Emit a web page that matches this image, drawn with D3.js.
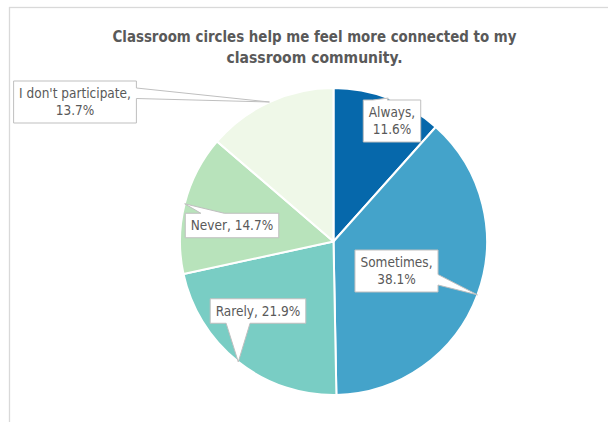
<!DOCTYPE html>
<html><head><meta charset="utf-8">
<script src="https://cdn.jsdelivr.net/npm/d3@7"></script>
<style>html,body{margin:0;padding:0;background:#fff;overflow:hidden}</style>
</head><body>
<svg id="chart" width="608" height="422"></svg>
<script>
const titleLines = ["Classroom circles help me feel more connected to my", "classroom community."];
const categories = ["Always", "Sometimes", "Rarely", "Never", "I don't participate"];
const values = [11.6, 38.1, 21.9, 14.7, 13.7];
const labelLines = [["Always,", "11.6%"], ["Sometimes,", "38.1%"], ["Rarely, 21.9%"], ["Never, 14.7%"], ["I don't participate,", "13.7%"]];
const colors = ["#0668AB", "#44A3CA", "#79CDC4", "#B8E3BB", "#EFF8E8"];
// label box centers (layout)
const boxCenters = [[392, 121], [396.5, 271], [258, 311], [232, 225.5], [75, 102]];

const W = 608, H = 422;
const cx = 333.5, cy = 241.5, R = 153.5;
const FONT = "'Liberation Sans Narrow','Arial Narrow','DejaVu Sans Condensed',sans-serif";
const svg = d3.select("#chart");

svg.append("rect").attr("x", 9.5).attr("y", 7.5).attr("width", 700).attr("height", 600)
  .attr("fill", "#fff").attr("stroke", "#d9d9d9").attr("stroke-width", 1.3);

const title = svg.append("text").attr("font-family", FONT).attr("font-weight", "bold")
  .attr("font-size", 16.5).attr("fill", "#595959").attr("text-anchor", "middle");
const titleWidths = [404, 176];
titleLines.forEach((t, i) => {
  title.append("tspan").attr("x", 314.5).attr("y", 42 + i * 21).text(t)
    .attr("textLength", titleWidths[i]).attr("lengthAdjust", "spacingAndGlyphs");
});

const pie = d3.pie().sort(null).value(d => d)(values);
const arc = d3.arc().innerRadius(0).outerRadius(R);
const edge = d3.arc().innerRadius(R).outerRadius(R);
const g = svg.append("g").attr("transform", `translate(${cx},${cy})`);
g.selectAll("path.slice").data(pie).enter().append("path").attr("class", "slice")
  .attr("d", arc).attr("fill", (d, i) => colors[i])
  .attr("stroke", "#fff").attr("stroke-width", 2).attr("stroke-linejoin", "round");

// callouts
const lineH = 17.5, padX = 5.5, padY = 3.5, fs = 13.5;
pie.forEach((d, i) => {
  const tip = edge.centroid(d);
  const tx = tip[0] + cx, ty = tip[1] + cy;
  const [bx, by] = boxCenters[i];
  const lines = labelLines[i];
  const lg = svg.append("g");
  const txt = lg.append("text").attr("font-family", FONT).attr("font-size", fs)
    .attr("fill", "#595959").attr("text-anchor", "middle");
  const h = lines.length * lineH + padY * 2;
  lines.forEach((l, k) => {
    txt.append("tspan").attr("x", bx).attr("y", by - h / 2 + padY + lineH * k + lineH * 0.76).text(l);
  });
  const tw = txt.node().getBBox().width;
  const w = tw + padX * 2;
  const x0 = bx - w / 2, y0 = by - h / 2, x1 = bx + w / 2, y1 = by + h / 2;
  const dxn = (tx - bx) / (w / 2), dyn = (ty - by) / (h / 2);
  let pts;
  const inside = Math.abs(dxn) <= 1 && Math.abs(dyn) <= 1;
  if (inside) {
    pts = [[x0, y0], [x1, y0], [x1, y1], [x0, y1]];
  } else if (Math.abs(dyn) >= Math.abs(dxn)) {
    const a = tx > bx ? 7 : 2, b = tx > bx ? 10 : 5;
    const xa = x0 + w * a / 12, xb = x0 + w * b / 12;
    if (ty < by) pts = [[x0, y0], [xa, y0], [tx, ty], [xb, y0], [x1, y0], [x1, y1], [x0, y1]];
    else pts = [[x0, y0], [x1, y0], [x1, y1], [xb, y1], [tx, ty], [xa, y1], [x0, y1]];
  } else {
    const a = ty > by ? 7 : 2, b = ty > by ? 10 : 5;
    const ya = y0 + h * a / 12, yb = y0 + h * b / 12;
    if (tx > bx) pts = [[x0, y0], [x1, y0], [x1, ya], [tx, ty], [x1, yb], [x1, y1], [x0, y1]];
    else pts = [[x0, y0], [x1, y0], [x1, y1], [x0, y1], [x0, yb], [tx, ty], [x0, ya]];
  }
  lg.insert("path", "text").attr("d", d3.line()(pts) + "Z")
    .attr("fill", "#fff").attr("stroke", "#bfbfbf").attr("stroke-width", 1);
});
</script>
</body></html>
